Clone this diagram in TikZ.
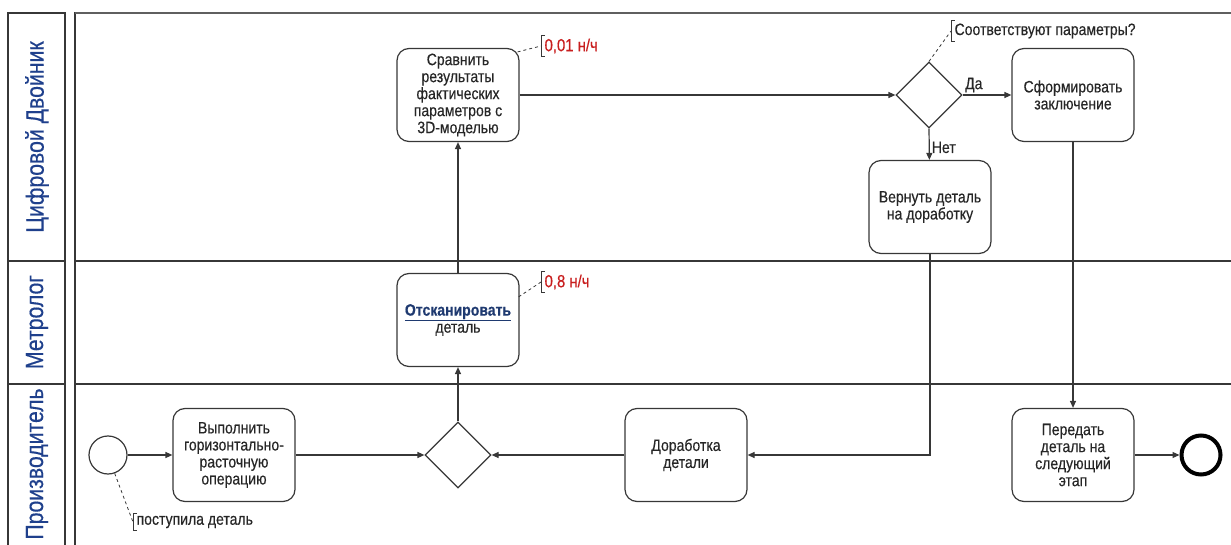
\documentclass[tikz,border=0pt]{standalone}
\usepackage{fontspec}
\setmainfont{Liberation Sans}[FakeStretch=0.85,FakeBold=0.4]
\usepackage{tikz}
\usetikzlibrary{arrows.meta}
\usetikzlibrary{shapes.geometric}
\definecolor{lanetext}{RGB}{31,64,140}
\definecolor{linkblue}{RGB}{31,58,112}
\definecolor{costred}{RGB}{200,30,30}
\definecolor{edgegray}{RGB}{55,55,55}
\begin{document}
\begin{tikzpicture}[x=1pt,y=-1pt,line width=1.2pt,
					every node/.style = {font=\fontsize{16.5}{17}\selectfont, text=black!85},
					flow/.style = {draw=edgegray, -{Triangle[length=7pt,width=6pt]}}]

\tikzstyle{task}=[rectangle, rounded corners=12pt, draw=edgegray, minimum width=122pt, minimum height=93pt, align=center, inner sep=2pt]
\tikzstyle{gateway}=[diamond, draw=edgegray, minimum width=66pt, minimum height=66pt, inner sep=0pt]
\tikzstyle{lane}=[rotate=90, font=\fontsize{25}{28}\selectfont, text=lanetext]
\tikzstyle{note}=[anchor=west, inner xsep=3pt, inner ysep=2pt]
\tikzstyle{cost}=[note, text=costred, font=\fontsize{17.5}{19}\selectfont]

\useasboundingbox (0,0) rectangle (1231,545);
\clip (0,0) rectangle (1231,545);

\draw[edgegray] (8,13) rectangle (65,570);
\draw[edgegray] (75,13) rectangle (1260,570);
\draw[edgegray!80, line width=2pt] (75,13) -- (1231,13);
\draw[edgegray] (8,261) -- (65,261) (75,261) -- (1260,261);
\draw[edgegray] (8,384) -- (65,384) (75,384) -- (1260,384);

\node[lane] (lanetwin) at (37,137) {Цифровой Двойник};
\node[lane] (lanemetro) at (37,322) {Метролог};
\node[lane] (laneprod) at (37,464) {Производитель};

\node[circle, draw=edgegray, minimum size=38pt, inner sep=0pt] (start) at (108,455) {};
\node[task] (perform) at (234,455) {Выполнить\\горизонтально-\\расточную\\операцию};
\node[gateway] (gwjoin) at (458,455) {};
\node[task] (scan) at (458,320) {\textcolor{linkblue}{\underline{\textbf{Отсканировать}}}\\деталь};
\node[task] (compare) at (458,95) {Сравнить\\результаты\\фактических\\параметров с\\3D-моделью};
\node[gateway] (gwcheck) at (929,95) {};
\node[task] (conclude) at (1073,95) {Сформировать\\заключение};
\node[task] (giveback) at (930,207) {Вернуть деталь\\на доработку};
\node[task] (rework) at (686,455) {Доработка\\детали};
\node[task] (handover) at (1073,455) {Передать\\деталь на\\следующий\\этап};
\node[circle, draw=black, line width=4pt, minimum size=39pt, inner sep=0pt] (finish) at (1201,455) {};

\node[cost] (costcompare) at (541,46) {0,01 н/ч};
\node[cost] (costscan) at (541,282) {0,8 н/ч};
\node[note] (notecheck) at (951,31) {Соответствуют параметры?};
\node[note] (notestart) at (133,522) {поступила деталь};

\foreach \n in {costcompare,costscan,notecheck,notestart}
	\draw[edgegray, line width=1pt] ([xshift=4pt]\n.north west) -- (\n.north west) -- (\n.south west) -- ([xshift=4pt]\n.south west);

\draw[edgegray, line width=0.8pt, dashed] (compare.north east) ++(-2,4) -- (costcompare.west);
\draw[edgegray, line width=0.8pt, dashed] (scan.north east) ++(-1,24) -- (costscan.west);
\draw[edgegray, line width=0.8pt, dashed] (gwcheck.north) -- (notecheck.west);
\draw[edgegray, line width=0.8pt, dashed] (start.-70) -- (notestart.west);

\draw[flow] (start) -- (perform);
\draw[flow] (perform) -- (gwjoin.west);
\draw[flow] (gwjoin.north) -- (scan);
\draw[flow] (scan) -- (compare);
\draw[flow] (compare) -- (gwcheck.west);
\draw[flow] (gwcheck.east) -- node[at start, anchor=south west, inner sep=2pt] {Да} (conclude);
\draw[flow] (gwcheck.south) -- node[pos=0.6, right, inner sep=2pt] {Нет} (giveback);
\draw[flow] (giveback.south) |- (rework.east);
\draw[flow] (rework) -- (gwjoin.east);
\draw[flow] (conclude) -- (handover);
\draw[flow] (handover) -- (finish);
\end{tikzpicture}
\end{document}
